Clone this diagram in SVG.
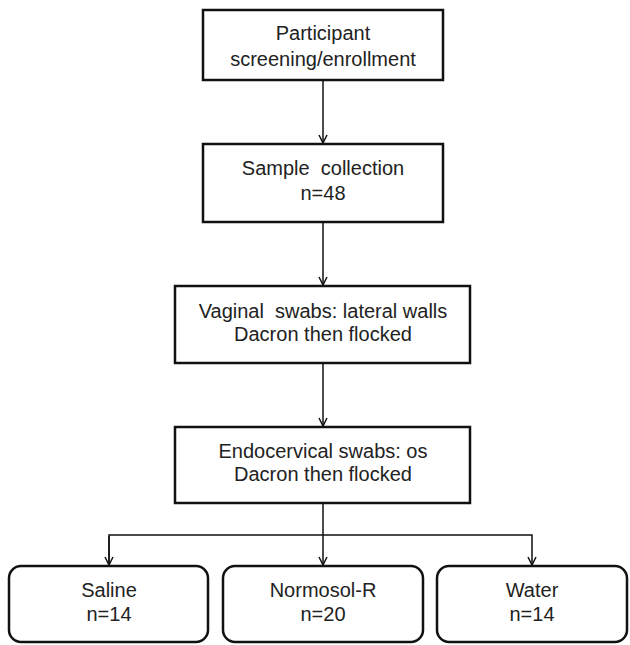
<svg xmlns="http://www.w3.org/2000/svg" width="630" height="645" viewBox="0 0 630 645">
<defs>
<marker id="arr" viewBox="0 0 10 10" refX="9" refY="5" markerWidth="10" markerHeight="10" markerUnits="userSpaceOnUse" orient="auto">
<path d="M1,1 L9,5 L1,9" fill="none" stroke="#111" stroke-width="1.5"/>
</marker>
<style>
.box{fill:#fff;stroke:#111;stroke-width:2.5}
.t{font-family:"Liberation Sans",Arial,sans-serif;font-size:20px;fill:#222;text-anchor:middle}
.c{fill:none;stroke:#111;stroke-width:1.5}
</style>
</defs>
<rect width="630" height="645" fill="#fff"/>
<g id="connectors">
<path class="c" d="M323,80 V143" marker-end="url(#arr)"/>
<path class="c" d="M323,222 V285" marker-end="url(#arr)"/>
<path class="c" d="M323,363 V426" marker-end="url(#arr)"/>
<path class="c" d="M323,503 V565" marker-end="url(#arr)"/>
<path class="c" d="M109,565 V535 H532 V565" marker-end="url(#arr)"/>
<path class="c" d="M109,536 V565" marker-end="url(#arr)"/>
</g>
<g id="n1">
<rect class="box" x="203" y="10" width="240" height="70"/>
<text class="t" x="323" y="40">Participant</text>
<text class="t" x="323" y="66">screening/enrollment</text>
</g>
<g id="n2">
<rect class="box" x="203" y="144" width="240" height="78"/>
<text class="t" x="323" y="175" xml:space="preserve">Sample  collection</text>
<text class="t" x="323" y="200">n=48</text>
</g>
<g id="n3">
<rect class="box" x="175" y="286" width="295" height="77"/>
<text class="t" x="323" y="318" xml:space="preserve">Vaginal  swabs: lateral walls</text>
<text class="t" x="323" y="341">Dacron then flocked</text>
</g>
<g id="n4">
<rect class="box" x="175" y="427" width="295" height="76"/>
<text class="t" x="323" y="458">Endocervical swabs: os</text>
<text class="t" x="323" y="481">Dacron then flocked</text>
</g>
<g id="n5">
<rect class="box" x="9" y="566" width="199" height="76" rx="12"/>
<text class="t" x="109" y="597">Saline</text>
<text class="t" x="109" y="621">n=14</text>
</g>
<g id="n6">
<rect class="box" x="223" y="566" width="200" height="76" rx="12"/>
<text class="t" x="323" y="597">Normosol-R</text>
<text class="t" x="323" y="621">n=20</text>
</g>
<g id="n7">
<rect class="box" x="437" y="566" width="190" height="76" rx="12"/>
<text class="t" x="532" y="597">Water</text>
<text class="t" x="532" y="621">n=14</text>
</g>
</svg>
